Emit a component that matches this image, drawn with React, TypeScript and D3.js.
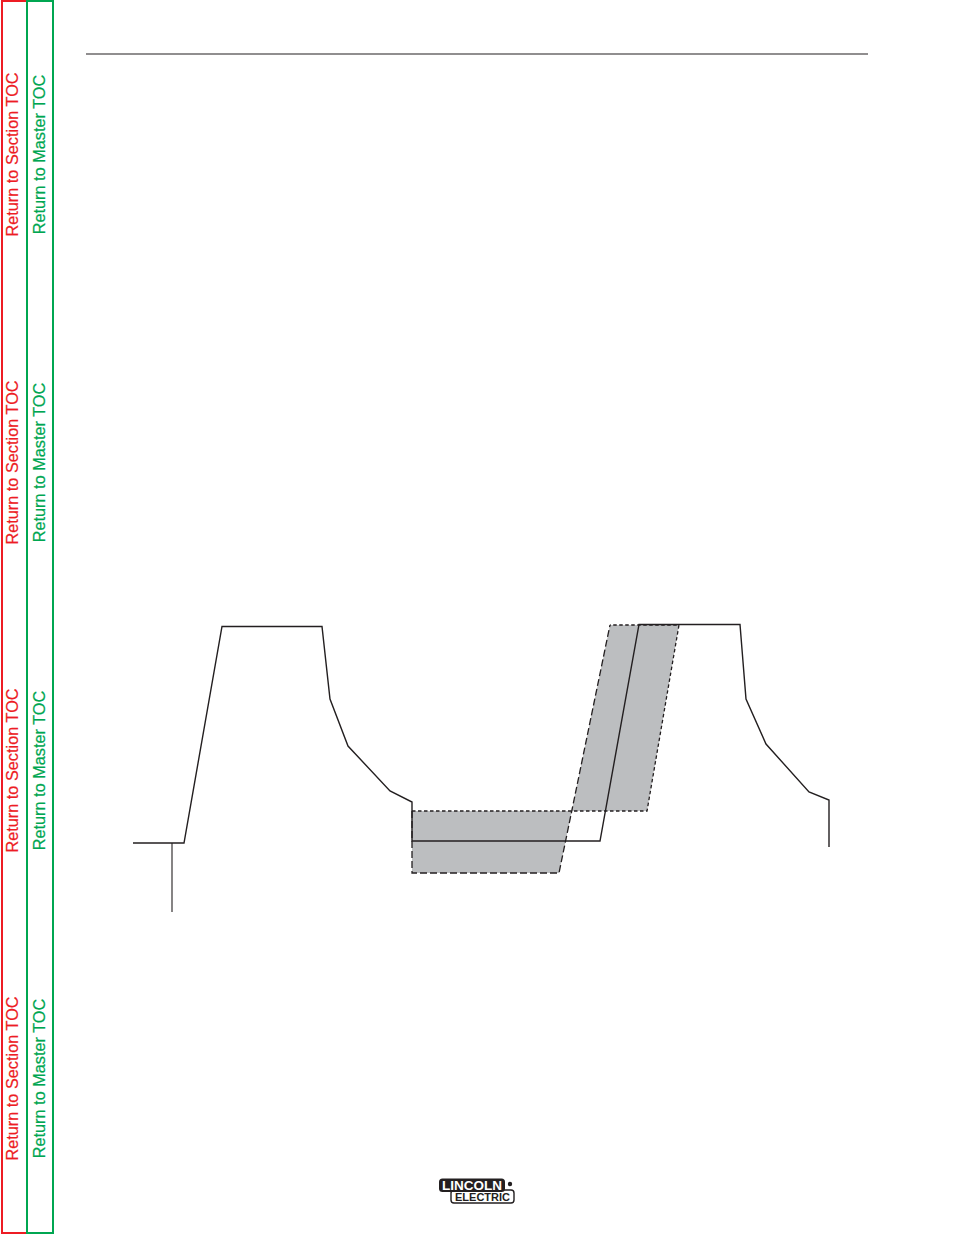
import React from "react";
import * as d3 from "d3";

// Page navigation labels
const sideLabels = ["Return to Section TOC", "Return to Master TOC"];
const labelCenters = [154.5, 462.5, 770.5, 1078.5];

// Waveform (time units, current units)
const waveTime = [0, 51, 89, 189, 197, 215, 257, 279, 279, 467, 506, 607, 613, 633, 676, 696, 696];
const waveCurrent = [57, 57, 273.5, 273.5, 201, 154, 109, 98, 59, 59, 275.5, 275.5, 201, 156, 108, 100, 53];
// Start marker
const markerTime = [39, 39];
const markerCurrent = [57, -12];

// Background band (lower) and rise band (upper)
const lowBandTime = [279, 438.75, 426, 279];
const lowBandCurrent = [89, 89, 27, 27];
const upBandTime = [438.75, 477, 546, 514];
const upBandCurrent = [89, 275, 275, 89];
// Dashed outlines
const longDashTime = [279, 279, 426, 477];
const longDashCurrent = [89, 27, 27, 275];
const shortDashTime = [279, 514, 546, 477];
const shortDashCurrent = [89, 89, 275, 275];

const x = d3.scaleLinear().domain([0, 700]).range([133, 833]);
const y = d3.scaleLinear().domain([0, 300]).range([900, 600]);

const line = d3
  .line<[number, number]>()
  .x((d) => x(d[0]))
  .y((d) => y(d[1]));

const zip = (a: number[], b: number[]) => a.map((v, i) => [v, b[i]] as [number, number]);

const INK = "#231f20";
const RED = "#ed1c24";
const GREEN = "#00a651";

export default function App() {
  return (
    <svg
      width={954}
      height={1235}
      style={{ position: "absolute", left: 0, top: 0 }}
      fontFamily="'Liberation Sans', Arial, Helvetica, sans-serif"
    >
      <rect width={954} height={1235} fill="#fff" />
      {/* sidebar frames */}
      <rect x={2} y={1} width={25} height={1232} fill="none" stroke={RED} strokeWidth={2} />
      <rect x={27} y={1} width={26} height={1232} fill="none" stroke={GREEN} strokeWidth={2} />
      <line x1={27} y1={1} x2={27} y2={1233} stroke={GREEN} strokeWidth={1} />
      {labelCenters.map((c, i) => (
        <g key={i}>
          <text
            transform={`translate(18,${c}) rotate(-90)`}
            textAnchor="middle"
            fontSize={16.3}
            fill={RED}
            stroke={RED}
            strokeWidth={0.2}
          >
            {sideLabels[0]}
          </text>
          <text
            transform={`translate(44.5,${c}) rotate(-90)`}
            textAnchor="middle"
            fontSize={16.3}
            fill={GREEN}
            stroke={GREEN}
            strokeWidth={0.2}
          >
            {sideLabels[1]}
          </text>
        </g>
      ))}

      {/* header rule */}
      <line x1={86} y1={54} x2={868} y2={54} stroke={INK} strokeWidth={1.2} />

      {/* bands */}
      <path d={line(zip(lowBandTime, lowBandCurrent)) + "Z"} fill="#bcbec0" />
      <path d={line(zip(upBandTime, upBandCurrent)) + "Z"} fill="#bcbec0" />
      <path
        d={line(zip(longDashTime, longDashCurrent)) || ""}
        fill="none"
        stroke={INK}
        strokeWidth={1.3}
        strokeDasharray="7 3"
      />
      <path
        d={line(zip(shortDashTime, shortDashCurrent)) || ""}
        fill="none"
        stroke={INK}
        strokeWidth={1.3}
        strokeDasharray="3.5 2.5"
      />

      {/* waveform */}
      <path
        d={line(zip(waveTime, waveCurrent)) || ""}
        fill="none"
        stroke={INK}
        strokeWidth={1.4}
        strokeLinejoin="miter"
      />
      <path d={line(zip(markerTime, markerCurrent)) || ""} fill="none" stroke={INK} strokeWidth={1.1} />

      {/* logo */}
      <g>
        <rect x={451} y={1190} width={63} height={13} rx={3} fill="#fff" stroke={INK} strokeWidth={1.4} />
        <text
          x={455}
          y={1200.5}
          fontSize={10}
          fontWeight="bold"
          fill={INK}
          textLength={55}
          lengthAdjust="spacingAndGlyphs"
        >
          ELECTRIC
        </text>
        <rect x={439} y={1178.5} width={66} height={13.5} rx={3.5} fill={INK} />
        <text
          x={442}
          y={1190}
          fontSize={13}
          fontWeight="bold"
          fill="#fff"
          textLength={60}
          lengthAdjust="spacingAndGlyphs"
        >
          LINCOLN
        </text>
        <circle cx={510} cy={1184} r={2.2} fill={INK} />
      </g>
    </svg>
  );
}
